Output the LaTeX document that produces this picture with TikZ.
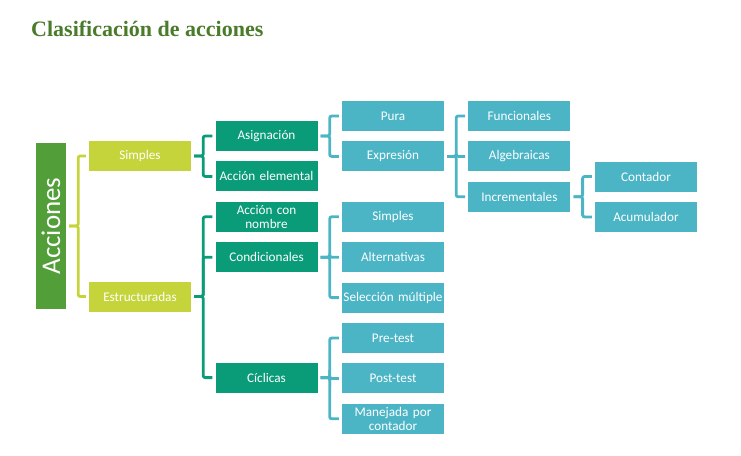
\documentclass[tikz,border=0pt]{standalone}
\usepackage{fontspec}
\usepackage{graphicx}
\usepackage{tikz}
\usetikzlibrary{positioning}
\newfontfamily\boxfont{Carlito}
\newfontfamily\titlefont{Liberation Serif}
\definecolor{titlegreen}{HTML}{4A7B2B}
\definecolor{rootgreen}{HTML}{529E38}
\definecolor{lvlyellow}{HTML}{C4D43A}
\definecolor{lvlteal}{HTML}{0A9B78}
\definecolor{lvlblue}{HTML}{4BB5C6}

\begin{document}
\begin{tikzpicture}[
  x=1pt, y=-1pt,
  node distance=10pt and 24pt,
  root/.style={fill=rootgreen, text=white, minimum width=30pt, minimum height=166pt, inner sep=0pt, font=\boxfont\fontsize{27}{28}\selectfont},
  box/.style={minimum width=102pt, minimum height=30pt, text width=102pt, inner sep=0pt, align=center, text=white, font=\boxfont\fontsize{13.2}{14.5}\selectfont},
  lvlone/.style={box, fill=lvlyellow},
  lvltwo/.style={box, fill=lvlteal},
  lvlthree/.style={box, fill=lvlblue},
  lnk/.style={line width=2.8pt, rounded corners=2pt},
  yln/.style={lnk, lvlyellow},
  tln/.style={lnk, lvlteal},
  bln/.style={lnk, lvlblue}
]
  \useasboundingbox (0,0) rectangle (741,455);

  \node[anchor=base west, inner sep=0pt, text=titlegreen, font=\titlefont\bfseries\fontsize{22}{24}\selectfont] (title) at (31,36) {Clasificación de acciones};

  \node[root] (acciones) at (51,226) {\rotatebox{90}{Acciones}};

  \node[lvlone] (simples) at (140,156) {Simples};
  \node[lvlone] (estruct) at (140,296.5) {Estructuradas};

  \node[lvltwo] (asign) at (266.5,136) {Asignación};
  \node[lvltwo, below=of asign] (elem) {Acción elemental};
  \node[lvltwo, below=of elem] (connom) {Acción con\\nombre};
  \node[lvltwo, below=of connom] (condic) {Condicionales};
  \node[lvltwo, below=90pt of condic] (ciclic) {Cíclicas};

  \node[lvlthree] (pura) at (393,116) {Pura};
  \node[lvlthree, below=of pura] (expr) {Expresión};
  \node[lvlthree, below=30pt of expr] (csimp) {Simples};
  \node[lvlthree, below=of csimp] (altern) {Alternativas};
  \node[lvlthree, below=of altern] (selec) {Selección múltiple};
  \node[lvlthree, below=of selec] (pretest) {Pre-test};
  \node[lvlthree, below=of pretest] (posttest) {Post-test};
  \node[lvlthree, below=of posttest] (manej) {Manejada por\\contador};

  \node[lvlthree, right=of pura] (funcion) {Funcionales};
  \node[lvlthree, below=of funcion] (algebr) {Algebraicas};
  \node[lvlthree, below=of algebr] (increm) {Incrementales};

  \node[lvlthree] (contad) at (646,176.5) {Contador};
  \node[lvlthree, below=of contad] (acumul) {Acumulador};

  % acciones
  \draw[yln] ([xshift=3pt]acciones.east) -- ++(9,0) |- ([xshift=-3pt]simples.west);
  \draw[yln] ([xshift=3pt]acciones.east) -- ++(9,0) |- ([xshift=-3pt]estruct.west);

  % simples / estructuradas
  \draw[tln] ([xshift=3pt]simples.east) -- ++(9,0) |- ([xshift=-3pt]asign.west);
  \draw[tln] ([xshift=3pt]simples.east) -- ++(9,0) |- ([xshift=-3pt]elem.west);
  \draw[tln] ([xshift=3pt]estruct.east) -- ++(9,0) |- ([xshift=-3pt]connom.west);
  \draw[tln] ([xshift=3pt]estruct.east) -- ++(9,0) |- ([xshift=-3pt]condic.west);
  \draw[tln] ([xshift=3pt]estruct.east) -- ++(9,0) |- ([xshift=-3pt]ciclic.west);

  % tercer nivel
  \draw[bln] ([xshift=3pt]asign.east) -- ++(9,0) |- ([xshift=-3pt]pura.west);
  \draw[bln] ([xshift=3pt]asign.east) -- ++(9,0) |- ([xshift=-3pt]expr.west);
  \draw[bln] ([xshift=3pt]condic.east) -- ++(9,0) |- ([xshift=-3pt]csimp.west);
  \draw[bln] ([xshift=3pt]condic.east) -- ++(9,0) |- ([xshift=-3pt]altern.west);
  \draw[bln] ([xshift=3pt]condic.east) -- ++(9,0) |- ([xshift=-3pt]selec.west);
  \draw[bln] ([xshift=3pt]ciclic.east) -- ++(9,0) |- ([xshift=-3pt]pretest.west);
  \draw[bln] ([xshift=3pt]ciclic.east) -- ++(9,0) |- ([xshift=-3pt]posttest.west);
  \draw[bln] ([xshift=3pt]ciclic.east) -- ++(9,0) |- ([xshift=-3pt]manej.west);

  % expresion / incrementales
  \draw[bln] ([xshift=3pt]expr.east) -- ++(9,0) |- ([xshift=-3pt]funcion.west);
  \draw[bln] ([xshift=3pt]expr.east) -- ++(9,0) |- ([xshift=-3pt]algebr.west);
  \draw[bln] ([xshift=3pt]expr.east) -- ++(9,0) |- ([xshift=-3pt]increm.west);
  \draw[bln] ([xshift=3pt]increm.east) -- ++(9,0) |- ([xshift=-3pt]contad.west);
  \draw[bln] ([xshift=3pt]increm.east) -- ++(9,0) |- ([xshift=-3pt]acumul.west);
\end{tikzpicture}
\end{document}
